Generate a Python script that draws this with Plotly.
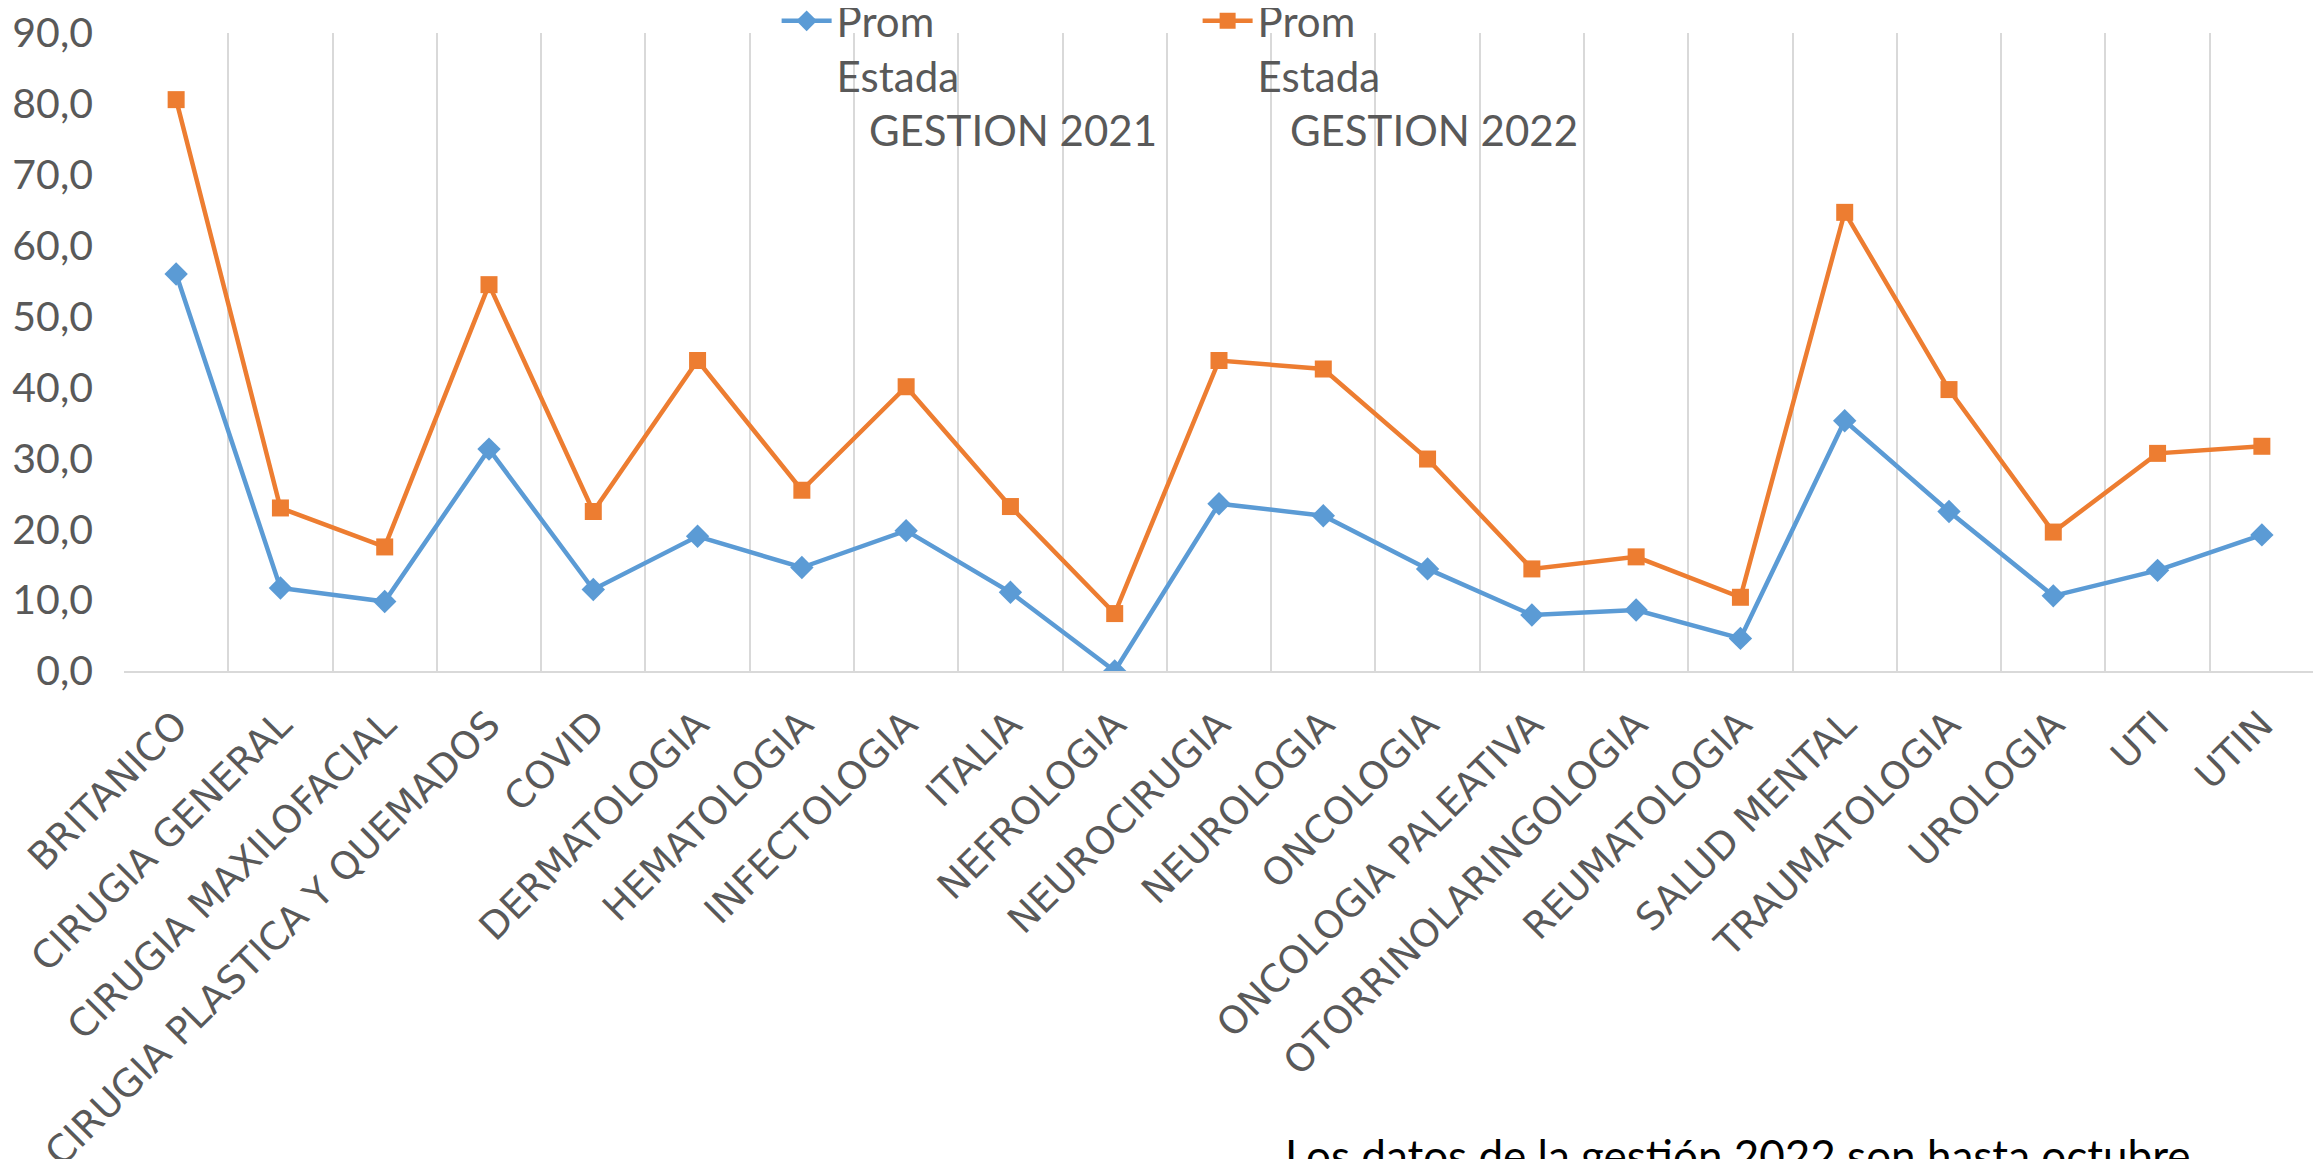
import plotly.graph_objects as go

categories = ["BRITANICO", "CIRUGIA GENERAL", "CIRUGIA MAXILOFACIAL", "CIRUGIA PLASTICA Y QUEMADOS",
              "COVID", "DERMATOLOGIA", "HEMATOLOGIA", "INFECTOLOGIA", "ITALIA", "NEFROLOGIA",
              "NEUROCIRUGIA", "NEUROLOGIA", "ONCOLOGIA", "ONCOLOGIA PALEATIVA", "OTORRINOLARINGOLOGIA",
              "REUMATOLOGIA", "SALUD MENTAL", "TRAUMATOLOGIA", "UROLOGIA", "UTI", "UTIN"]

prom_2021 = [56.0, 11.7, 9.8, 31.3, 11.5, 19.0, 14.6, 19.8, 11.1, 0.0,
             23.6, 21.9, 14.4, 7.9, 8.6, 4.6, 35.3, 22.5, 10.6, 14.2, 19.2]
prom_2022 = [80.6, 23.0, 17.5, 54.5, 22.5, 43.8, 25.5, 40.1, 23.2, 8.1,
             43.8, 42.6, 29.9, 14.4, 16.1, 10.4, 64.7, 39.7, 19.6, 30.7, 31.7]

name_2021 = "Prom<br>Estada<br>\u00a0\u00a0\u00a0GESTION 2021"
name_2022 = "Prom<br>Estada<br>\u00a0\u00a0\u00a0GESTION 2022"
footnote = "Los datos de la gestión 2022 son hasta octubre"

y_ticks = [0, 10, 20, 30, 40, 50, 60, 70, 80, 90]

BLUE = "#5B9BD5"
ORANGE = "#ED7D31"
GRAY = "#595959"

fig = go.Figure()
fig.add_trace(go.Scatter(x=categories, y=prom_2021, name=name_2021, mode="lines+markers",
                         line=dict(color=BLUE, width=4.5),
                         marker=dict(symbol="diamond", size=18, color=BLUE)))
fig.add_trace(go.Scatter(x=categories, y=prom_2022, name=name_2022, mode="lines+markers",
                         line=dict(color=ORANGE, width=4.5),
                         marker=dict(symbol="square", size=17, color=ORANGE)))

# page body has an 8px margin, so the figure is sized/offset to compensate
fig.update_layout(
    width=2313, height=1151,
    margin=dict(l=116, r=7, t=25, b=488, autoexpand=False),
    paper_bgcolor="white", plot_bgcolor="white",
    separators=",.",
    showlegend=True,
    legend=dict(orientation="h", x=0.298, xanchor="left", y=1.072, yanchor="top",
                font=dict(family="Lato", size=42, color=GRAY),
                bgcolor="rgba(0,0,0,0)", valign="top",
                entrywidth=356, entrywidthmode="pixels", itemwidth=50),
    xaxis=dict(type="category", tickson="boundaries", showgrid=True, gridcolor="#D9D9D9", gridwidth=1.5,
               showline=True, linecolor="#D9D9D9", linewidth=2, ticks="", automargin=False,
               tickangle=-45, tickfont=dict(family="DejaVu Sans", size=38, color=GRAY),
               ticklabelstandoff=14, range=[-0.5, 20.5]),
    yaxis=dict(range=[0, 90], tickvals=y_ticks, tickformat=".1f", showgrid=False, zeroline=False,
               showline=False, ticks="", ticklabelstandoff=30, automargin=False,
               ticklabeloverflow="allow",
               tickfont=dict(family="Lato", size=41, color=GRAY)),
    annotations=[dict(text=footnote, xref="paper", yref="paper", x=0.529, y=-0.714,
                      xanchor="left", yanchor="top", showarrow=False,
                      font=dict(family="Lato", size=44, color="#000000"))],
)

fig.write_html("out.html")
